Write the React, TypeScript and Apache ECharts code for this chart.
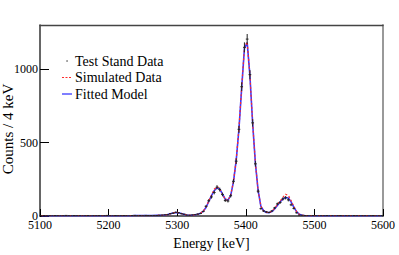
import React, { useEffect, useRef } from "react";
import * as echarts from "echarts";

// Histogram binning (4 keV bins from 5100 keV)
const BIN_START = 5100;
const BIN_WIDTH = 4;

const xTickValues = [5100, 5200, 5300, 5400, 5500, 5600];
const yTickValues = [0, 500, 1000];

const legendLabels = ["Test Stand Data", "Simulated Data", "Fitted Model"];
const xTitle = "Energy [keV]";
const yTitle = "Counts / 4 keV";

// Test stand data counts per 4 keV bin (bin centres 5102 ... 5598)
const testStandCounts = [
  1, 3, 2, 2, 1, 3, 2, 1, 2, 4,
  2, 1, 3, 2, 2, 1, 2, 3, 1, 2,
  2, 3, 1, 2, 4, 2, 1, 3, 2, 2,
  3, 2, 1, 3, 4, 2, 3, 2, 4, 3,
  3, 4, 3, 5, 6, 8, 9, 16, 19, 25,
  22, 16, 12, 6, 5, 7, 9, 13, 17, 31,
  66, 104, 130, 160, 196, 180, 146, 106, 102, 138,
  236, 373, 590, 880, 1148, 1204, 962, 634, 355, 169,
  50, 34, 28, 24, 34, 55, 82, 92, 116, 124,
  110, 76, 52, 22, 6, 5, 3, 2, 1, 3,
  2, 1, 2, 2, 3, 1, 2, 1, 2, 3,
  1, 2, 2, 1, 3, 2, 1, 2, 2, 1,
  2, 3, 1, 2, 2,
];

// Simulated spectrum per bin
const simulatedCounts = [
  2, 2, 2, 2, 2, 2, 2, 2, 2, 2,
  2, 2, 2, 2, 2, 2, 2, 2, 2, 2,
  2, 2, 2, 2, 2, 2, 2, 2, 2, 2,
  2, 2, 2, 3, 3, 3, 3, 3, 3, 3,
  3, 3, 4, 4, 5, 7, 10, 15, 21, 25,
  23, 17, 11, 7, 5, 6, 8, 12, 19, 33,
  60, 102, 142, 182, 200, 186, 150, 112, 106, 142,
  234, 380, 595, 875, 1145, 1185, 958, 632, 360, 170,
  68, 34, 24, 24, 32, 52, 78, 102, 126, 148,
  140, 105, 64, 30, 12, 5, 3, 2, 2, 2,
  2, 2, 2, 2, 2, 2, 2, 2, 2, 2,
  2, 2, 2, 2, 2, 2, 2, 2, 2, 2,
  2, 2, 2, 2, 2,
];

// Fitted model per bin
const fittedCounts = [
  2, 2, 2, 2, 2, 2, 2, 2, 2, 2,
  2, 2, 2, 2, 2, 2, 2, 2, 2, 2,
  2, 2, 2, 2, 2, 2, 2, 2, 2, 2,
  2, 2, 2, 2, 3, 3, 3, 3, 3, 3,
  3, 3, 4, 4, 5, 7, 10, 15, 20, 23,
  22, 17, 11, 7, 5, 6, 8, 12, 19, 32,
  58, 100, 138, 172, 192, 183, 150, 115, 108, 140,
  232, 378, 592, 872, 1140, 1180, 955, 630, 358, 172,
  66, 36, 24, 23, 30, 48, 72, 96, 116, 126,
  122, 96, 60, 30, 12, 5, 3, 2, 2, 2,
  2, 2, 2, 2, 2, 2, 2, 2, 2, 2,
  2, 2, 2, 2, 2, 2, 2, 2, 2, 2,
  2, 2, 2, 2, 2,
];

const FONT = "'Liberation Serif', 'DejaVu Serif', serif";

export default function App() {
  const ref = useRef<HTMLDivElement>(null);

  useEffect(() => {
    if (!ref.current) return;
    const chart = echarts.init(ref.current, undefined, { renderer: "svg" });

    const centre = (i: number) => BIN_START + BIN_WIDTH * i + BIN_WIDTH / 2;
    const dataPts = testStandCounts.map((v, i) => [centre(i), v, Math.sqrt(v)]);
    const simPts = simulatedCounts.map((v, i) => [centre(i), v]);
    const fitPts = fittedCounts.map((v, i) => [centre(i), v]);

    const legendX = 62;
    const legendY = [61, 77.5, 94];

    chart.setOption({
      animation: false,
      backgroundColor: "#fff",
      grid: { left: 40, top: 25, right: 16, bottom: 32, containLabel: false },
      xAxis: [
        {
          type: "value",
          min: 5100,
          max: 5600,
          interval: 100,
          name: xTitle,
          nameLocation: "middle",
          nameGap: 20,
          nameTextStyle: { fontFamily: FONT, fontSize: 14, color: "#000" },
          axisLine: { show: true, onZero: false, lineStyle: { color: "#333", width: 1.5 } },
          axisTick: { show: true, inside: true, length: 7, lineStyle: { color: "#000", width: 1 }, customValues: xTickValues },
          axisLabel: {
            fontFamily: FONT, fontSize: 12, color: "#000", margin: 3,
            customValues: xTickValues, formatter: (v: number) => String(v),
          },
          splitLine: { show: false },
        },
        {
          type: "value",
          position: "top",
          min: 5100,
          max: 5600,
          axisLine: { show: true, onZero: false, lineStyle: { color: "#444", width: 1.3 } },
          axisTick: { show: false },
          axisLabel: { show: false },
          splitLine: { show: false },
        },
      ],
      yAxis: [
        {
          type: "value",
          min: 0,
          max: 1300,
          interval: 500,
          axisLine: { show: true, onZero: false, lineStyle: { color: "#333", width: 1.5 } },
          axisTick: { show: true, inside: true, length: 9, lineStyle: { color: "#000", width: 1 }, customValues: yTickValues },
          axisLabel: {
            fontFamily: FONT, fontSize: 12, color: "#000", margin: 2,
            customValues: yTickValues, formatter: (v: number) => String(v),
            padding: [0, 0, 7, 0],
          },
          splitLine: { show: false },
        },
        {
          type: "value",
          position: "right",
          min: 0,
          max: 1300,
          axisLine: { show: true, onZero: false, lineStyle: { color: "#999", width: 2 } },
          axisTick: { show: false },
          axisLabel: { show: false },
          splitLine: { show: false },
        },
      ],
      series: [
        {
          name: legendLabels[2],
          type: "line",
          data: fitPts,
          showSymbol: false,
          symbol: "none",
          lineStyle: { color: "#3a3aff", width: 1.6 },
          z: 2,
        },
        {
          name: legendLabels[1],
          type: "line",
          data: simPts,
          showSymbol: false,
          symbol: "none",
          lineStyle: { color: "#ff2a2a", width: 1.2, type: [2, 2] },
          z: 3,
        },
        {
          name: legendLabels[0],
          type: "custom",
          data: dataPts,
          clip: true,
          z: 4,
          renderItem: (params: any, api: any) => {
            const x = api.value(0);
            const y = api.value(1);
            const e = api.value(2);
            const top = api.coord([x, y + e]);
            const bot = api.coord([x, Math.max(0, y - e)]);
            const l = api.coord([x - BIN_WIDTH / 2, y]);
            const r = api.coord([x + BIN_WIDTH / 2, y]);
            const style = { stroke: "#222", lineWidth: 1 };
            return {
              type: "group",
              children: [
                { type: "line", shape: { x1: top[0], y1: top[1], x2: bot[0], y2: bot[1] }, style },
                { type: "line", shape: { x1: l[0], y1: l[1], x2: r[0], y2: r[1] }, style },
              ],
            };
          },
        },
      ],
      graphic: [
        {
          type: "text",
          x: 8,
          y: 129,
          rotation: Math.PI / 2,
          style: { text: yTitle, fontFamily: FONT, fontSize: 15, fill: "#000", align: "center", verticalAlign: "middle" },
        },
        { type: "circle", shape: { cx: legendX + 5, cy: legendY[0], r: 0.7 }, style: { fill: "#222" } },
        { type: "line", shape: { x1: legendX, y1: legendY[1], x2: legendX + 10, y2: legendY[1] }, style: { stroke: "#ff2a2a", lineWidth: 1, lineDash: [2, 1.5] } },
        { type: "line", shape: { x1: legendX, y1: legendY[2], x2: legendX + 10, y2: legendY[2] }, style: { stroke: "#3a3aff", lineWidth: 1.3 } },
        ...legendLabels.map((t, i) => ({
          type: "text",
          x: legendX + 13,
          y: legendY[i],
          style: { text: t, fontFamily: FONT, fontSize: 14, fill: "#000", verticalAlign: "middle", align: "left" },
        })),
      ],
    });

    return () => chart.dispose();
  }, []);

  return <div ref={ref} style={{ position: "absolute", left: 0, top: 0, width: 399, height: 255 }} />;
}
